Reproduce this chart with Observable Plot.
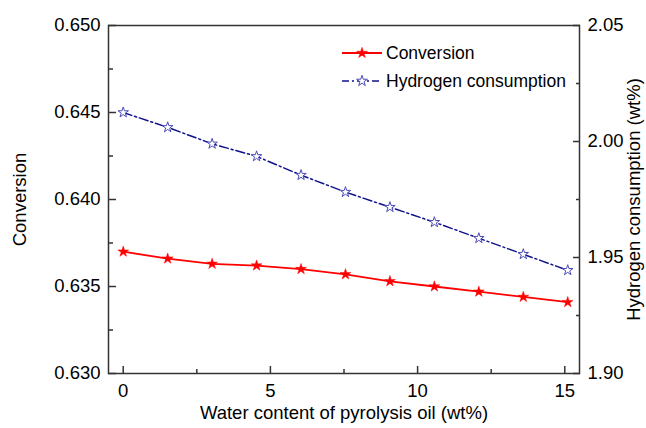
<!DOCTYPE html>
<html><head><meta charset="utf-8">
<script src="https://cdn.jsdelivr.net/npm/d3@7"></script>
<script src="https://cdn.jsdelivr.net/npm/@observablehq/plot@0.6"></script>
<style>
body{margin:0;background:#fff;}
#wrap{position:relative;width:646px;height:428px;background:#fff;}
#wrap > svg{position:absolute;left:0;top:0;}
</style></head><body><div id="wrap"></div>
<script>
// ---- data ----
const water = [0, 1.51, 3.02, 4.53, 6.04, 7.55, 9.06, 10.57, 12.08, 13.59, 15.1];
const conversion = [0.6370, 0.6366, 0.6363, 0.6362, 0.6360, 0.6357, 0.6353, 0.6350, 0.6347, 0.6344, 0.6341];
const hydrogen = [2.0125, 2.0061, 1.9990, 1.9936, 1.9855, 1.9782, 1.9717, 1.9652, 1.9583, 1.9514, 1.9445];
const seriesNames = ["Conversion", "Hydrogen consumption"];
const xDomain = [-0.5, 15.5];
const xMajor = [0, 5, 10, 15];
const xMinor = [2.5, 7.5, 12.5];
const convDomain = [0.630, 0.650];
const convMajor = [0.630, 0.635, 0.640, 0.645, 0.650];
const convMinor = [0.6325, 0.6375, 0.6425, 0.6475];
const h2Domain = [1.90, 2.05];
const h2Major = [1.90, 1.95, 2.00, 2.05];
const h2Minor = [1.925, 1.975, 2.025];
const xLabel = "Water content of pyrolysis oil (wt%)";
const yLabel = "Conversion";
const y2Label = "Hydrogen consumption (wt%)";

// ---- chart ----
const font = '"Liberation Sans", Arial, sans-serif';
const red = "#ff0000", navy = "#10108c", starBlue = "#4a4ab8", axisCol = "#333";
const data = water.map((w, i) => ({w, c: conversion[i], h: hydrogen[i]}));
const common = {
  width: 646, height: 428,
  marginTop: 25, marginRight: 67, marginBottom: 55, marginLeft: 108,
  style: {fontFamily: font, fontSize: "18.5px", color: "#000", background: "transparent", overflow: "visible"}
};
const tickStyle = {stroke: axisCol, strokeWidth: 1.5, tickFormat: () => "", label: null};

const p1 = Plot.plot({
  ...common,
  x: {domain: xDomain},
  y: {domain: convDomain},
  marks: [
    Plot.frame({stroke: axisCol, strokeWidth: 1.5}),
    Plot.axisY(convMajor, {anchor: "left", tickSize: -8, ...tickStyle}),
    Plot.axisY(convMinor, {anchor: "left", tickSize: -5, ...tickStyle}),
    Plot.axisY(convMajor, {anchor: "left", tickSize: 0, tickPadding: 8, tickFormat: d3.format(".3f"),
      label: yLabel, labelAnchor: "center", labelArrow: "none", labelOffset: 96}),
    Plot.axisX(xMajor, {anchor: "bottom", tickSize: -7, ...tickStyle}),
    Plot.axisX(xMinor, {anchor: "bottom", tickSize: -4, ...tickStyle}),
    Plot.axisX(xMajor, {anchor: "bottom", tickSize: 0, tickPadding: 10, tickFormat: d => String(d),
      label: xLabel, labelAnchor: "center", labelArrow: "none", labelOffset: 45}),
    Plot.line(data, {x: "w", y: "c", stroke: red, strokeWidth: 1.8}),
    Plot.dot(data, {x: "w", y: "c", symbol: "star", r: 3.4, fill: red, stroke: red, strokeWidth: 0.5})
  ]
});

const p2 = Plot.plot({
  ...common,
  x: {domain: xDomain, axis: null},
  y: {domain: h2Domain},
  marks: [
    Plot.axisY(h2Major, {anchor: "right", tickSize: -7, ...tickStyle}),
    Plot.axisY(h2Minor, {anchor: "right", tickSize: -4, ...tickStyle}),
    Plot.axisY(h2Major, {anchor: "right", tickSize: 0, tickPadding: 8, tickFormat: d3.format(".2f"),
      label: y2Label, labelAnchor: "center", labelArrow: "none", labelOffset: 60}),
    Plot.line(data, {x: "w", y: "h", stroke: navy, strokeWidth: 1.5, strokeDasharray: "9,3,2,3"}),
    Plot.dot(data, {x: "w", y: "h", symbol: "star", r: 3.3, fill: "#fff", stroke: starBlue, strokeWidth: 1})
  ]
});

const wrap = document.getElementById("wrap");
wrap.appendChild(p1);
wrap.appendChild(p2);

// ---- legend ----
const ns = "http://www.w3.org/2000/svg";
const leg = document.createElementNS(ns, "svg");
leg.setAttribute("width", 646); leg.setAttribute("height", 428);
leg.style.fontFamily = font; leg.style.fontSize = "17.5px";
const starPath = d3.symbol(d3.symbolStar, Math.PI * 3.4 * 3.4)();
const items = [
  {name: seriesNames[0], y: 53, stroke: red, dash: null, fill: red, sstroke: red, sw: 0.5},
  {name: seriesNames[1], y: 81, stroke: navy, dash: "7,3,2,3", fill: "#fff", sstroke: starBlue, sw: 1}
];
for (const it of items) {
  const g = document.createElementNS(ns, "g");
  const ln = document.createElementNS(ns, "line");
  ln.setAttribute("x1", 342); ln.setAttribute("x2", 382);
  ln.setAttribute("y1", it.y); ln.setAttribute("y2", it.y);
  ln.setAttribute("stroke", it.stroke); ln.setAttribute("stroke-width", it.dash ? 1.5 : 1.8);
  if (it.dash) ln.setAttribute("stroke-dasharray", it.dash);
  g.appendChild(ln);
  const st = document.createElementNS(ns, "path");
  st.setAttribute("d", starPath);
  st.setAttribute("transform", `translate(362,${it.y})`);
  st.setAttribute("fill", it.fill); st.setAttribute("stroke", it.sstroke); st.setAttribute("stroke-width", it.sw);
  g.appendChild(st);
  const tx = document.createElementNS(ns, "text");
  tx.setAttribute("x", 386); tx.setAttribute("y", it.y);
  tx.setAttribute("dy", "0.35em");
  tx.textContent = it.name;
  g.appendChild(tx);
  leg.appendChild(g);
}
wrap.appendChild(leg);
</script></body></html>
